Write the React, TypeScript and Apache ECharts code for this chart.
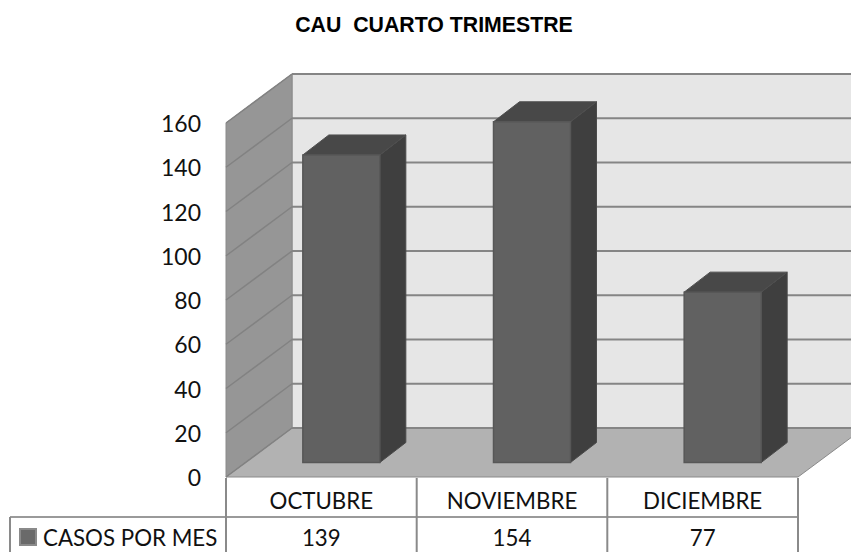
import React, { useEffect, useRef } from "react";
import * as echarts from "echarts";

const title = "CAU  CUARTO TRIMESTRE";
const seriesName = "CASOS POR MES";
const categories = ["OCTUBRE", "NOVIEMBRE", "DICIEMBRE"];
const values = [139, 154, 77];
const yTicks = [0, 20, 40, 60, 80, 100, 120, 140, 160];

const DX = 66;
const DY = -49;
const BAR_RATIO = 77 / 190.67;
const BASE_DX = 20;
const BASE_DY = -14.5;
const BAR_DX = 26;
const BAR_DY = -20;
const GRID = { left: 226, top: 123, width: 572, height: 354 };
const LINE = "#8a8a8a";
const FONT = "Lato";

function renderWalls(params: any) {
  const c = params.coordSys;
  const x0 = c.x, x1 = c.x + c.width, yT = c.y, yB = c.y + c.height;
  const poly = (points: number[][], fill: string) => ({
    type: "polygon",
    shape: { points },
    style: { fill, stroke: LINE, lineWidth: 1 },
  });
  return {
    type: "group",
    children: [
      poly([[x0 + DX, yT + DY], [x1 + DX, yT + DY], [x1 + DX, yB + DY], [x0 + DX, yB + DY]], "#e6e6e6"),
      poly([[x0, yT], [x0 + DX, yT + DY], [x0 + DX, yB + DY], [x0, yB]], "#969696"),
      poly([[x0, yB], [x0 + DX, yB + DY], [x1 + DX, yB + DY], [x1, yB]], "#b2b2b2"),
    ],
  };
}

function renderGridLine(params: any, api: any) {
  const c = params.coordSys;
  const y = api.coord([0, api.value(1)])[1];
  return {
    type: "group",
    children: [
      {
        type: "line",
        shape: { x1: c.x + DX, y1: y + DY, x2: c.x + c.width + DX, y2: y + DY },
        style: { stroke: "#858585", lineWidth: 2 },
      },
      {
        type: "line",
        shape: { x1: c.x, y1: y, x2: c.x + DX, y2: y + DY },
        style: { stroke: "#828282", lineWidth: 1.5 },
      },
    ],
  };
}

function renderBar(params: any, api: any) {
  const i = api.value(0);
  const band = api.size([1, 0])[0];
  const w = band * BAR_RATIO;
  const top = api.coord([i, api.value(1)]);
  const base = api.coord([i, 0]);
  const l = top[0] + BASE_DX - w / 2;
  const r = l + w;
  const t = top[1] + BASE_DY;
  const b = base[1] + BASE_DY;
  const edge = "#575757";
  return {
    type: "group",
    children: [
      {
        type: "polygon",
        shape: { points: [[r, t], [r + BAR_DX, t + BAR_DY], [r + BAR_DX, b + BAR_DY], [r, b]] },
        style: { fill: "#3f3f3f", stroke: "#4a4a4a", lineWidth: 1 },
      },
      {
        type: "polygon",
        shape: { points: [[l, t], [l + BAR_DX, t + BAR_DY], [r + BAR_DX, t + BAR_DY], [r, t]] },
        style: { fill: "#484848", stroke: "#4f4f4f", lineWidth: 1 },
      },
      {
        type: "rect",
        shape: { x: l, y: t, width: w, height: b - t },
        style: { fill: "#616161", stroke: edge, lineWidth: 1.5 },
      },
    ],
  };
}

function tableLine(x1: number, y1: number, x2: number, y2: number, stroke = LINE) {
  return {
    type: "line",
    silent: true,
    z: 20,
    shape: { x1, y1, x2, y2 },
    style: { stroke, lineWidth: 2 },
  };
}

export default function App() {
  const ref = useRef<HTMLDivElement>(null);
  useEffect(() => {
    const chart = echarts.init(ref.current!, undefined, { renderer: "svg" });
    chart.setOption({
      animation: false,
      backgroundColor: "#ffffff",
      title: {
        text: title,
        left: 429,
        top: 9,
        textAlign: "center",
        textStyle: { fontFamily: "Liberation Sans", fontSize: 21.3, fontWeight: "bold", color: "#000" },
      },
      legend: {
        left: 19,
        top: 526,
        padding: 0,
        itemWidth: 16,
        itemHeight: 16,
        icon: "rect",
        data: [seriesName],
        selectedMode: false,
        textStyle: { fontFamily: FONT, fontSize: 22.3, color: "#111", padding: [0, 0, 0, 2] },
      },
      grid: GRID,
      xAxis: [
        {
          type: "category",
          data: categories,
          position: "bottom",
          axisLine: { show: false },
          axisTick: { show: false },
          axisLabel: { fontFamily: FONT, fontSize: 22.3, color: "#111", margin: 12 },
        },
        {
          type: "category",
          data: values.map(String),
          position: "bottom",
          offset: 36,
          axisLine: { show: false },
          axisTick: { show: false },
          axisLabel: { fontFamily: FONT, fontSize: 22.3, color: "#111", margin: 13 },
        },
      ],
      yAxis: {
        type: "value",
        min: 0,
        max: 160,
        interval: 20,
        axisLine: { show: false },
        axisTick: { show: false },
        splitLine: { show: false },
        axisLabel: { fontFamily: FONT, fontSize: 23, color: "#111", margin: 25 },
      },
      series: [
        {
          type: "custom",
          name: "walls",
          silent: true,
          z: 1,
          data: [[0, 0]],
          encode: { x: 0, y: 1 },
          renderItem: renderWalls,
        },
        {
          type: "custom",
          name: "gridlines",
          silent: true,
          z: 2,
          data: yTicks.map((t) => [0, t]),
          encode: { x: 0, y: 1 },
          renderItem: renderGridLine,
        },
        {
          type: "custom",
          name: seriesName,
          silent: true,
          z: 3,
          itemStyle: { color: "#6a6a6a", borderColor: "#8a8a8a", borderWidth: 1 },
          data: values.map((v, i) => [i, v]),
          encode: { x: 0, y: 1 },
          renderItem: renderBar,
        },
      ],
      graphic: [
        tableLine(10, 517, 798, 517, "#9a9a9a"),
        tableLine(10, 517, 10, 552),
        tableLine(226, 478, 226, 552),
        tableLine(416.7, 478, 416.7, 552),
        tableLine(607.3, 478, 607.3, 552),
        tableLine(798, 478, 798, 552),
      ],
    });
    return () => chart.dispose();
  }, []);
  return <div ref={ref} style={{ position: "fixed", left: 0, top: 0, width: 851, height: 552 }} />;
}
